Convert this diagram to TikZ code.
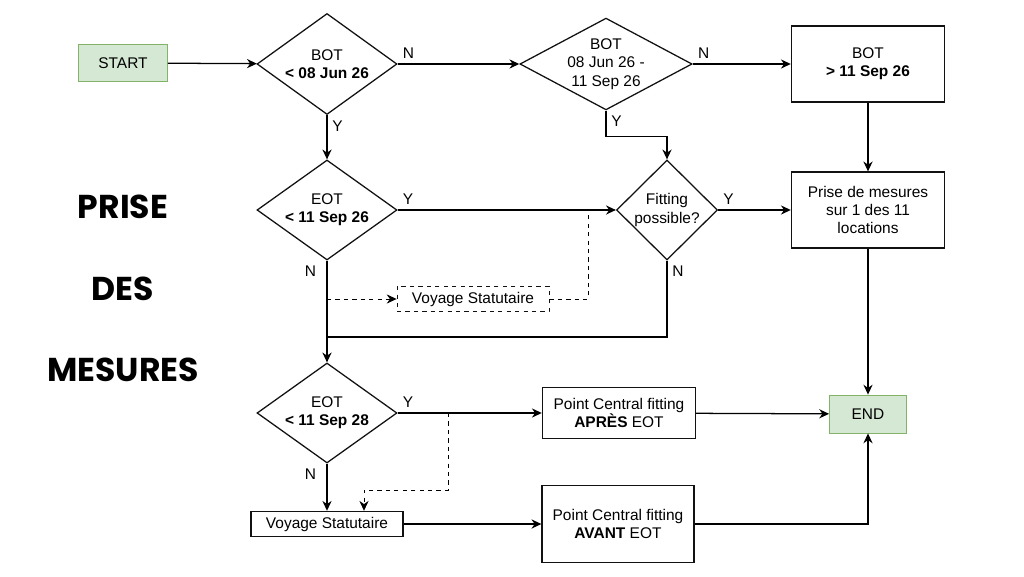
\documentclass[tikz,border=0pt]{standalone}
\usepackage{fontspec}
\setmainfont{Liberation Sans}
\newfontfamily\titlefont{Poppins}
\usepackage{tikz}
\usetikzlibrary{positioning,arrows.meta,shapes.geometric}
\definecolor{flowgreen}{HTML}{D5E8D4}
\definecolor{flowgreenln}{HTML}{82B366}
\definecolor{flowink}{HTML}{111111}

\begin{document}
\begin{tikzpicture}[font=\fontsize{11}{13}\selectfont,>={Stealth[length=7pt,width=6.5pt]},line width=0.9pt,
  termn/.style={draw=flowgreenln,fill=flowgreen,line width=0.6pt,minimum width=2.225cm,minimum height=0.93cm},
  proc/.style={draw=flowink,fill=white,align=center,minimum width=3.83cm,minimum height=1.9cm},
  dec/.style={diamond,draw=flowink,align=center,inner sep=0pt,minimum width=3.5cm,minimum height=2.5cm,shape aspect=1.39},
  vbox/.style={draw=flowink,align=center,minimum width=3.8cm,minimum height=0.63cm},
  bigtxt/.style={font=\titlefont\bfseries\fontsize{23.5}{28}\selectfont}]
\useasboundingbox[fill=white] (0,0) rectangle (25.6,-14.4);
% title
\node[bigtxt] (t1) at (3.075,-5.175) {PRISE};
\node[bigtxt] (t2) at (3.075,-7.225) {DES};
\node[bigtxt] (t3) at (3.075,-9.25) {MESURES};
% top row
\node[termn] (start) at (3.075,-1.575) {START};
\node[dec,minimum height=2.525cm] (bot1) at (8.175,-1.6) {BOT\\\textbf{< 08 Jun 26}};
\node[dec,minimum width=4.125cm,minimum height=2.2cm,shape aspect=1.875] (bot2) at (15.15,-1.6) {BOT\\08 Jun 26 -\\11 Sep 26};
\node[proc] (bot3) at (21.7,-1.6) {BOT\\\textbf{> 11 Sep 26}};
% middle row
\node[dec] (eot1) at (8.175,-5.25) {EOT\\\textbf{< 11 Sep 26}};
\node[dec,minimum width=2.525cm,shape aspect=1] (fit) at (16.675,-5.25) {Fitting\\possible?};
\node[proc] (mes) at (21.7,-5.25) {Prise de mesures\\sur 1 des 11\\locations};
\node[vbox,dashed,line width=0.6pt] (voy1) at (11.825,-7.475) {Voyage Statutaire};
% bottom rows
\node[dec] (eot2) at (8.175,-10.325) {EOT\\\textbf{< 11 Sep 28}};
\node[proc,minimum height=1.275cm] (apres) at (15.475,-10.325) {Point Central fitting\\\textbf{APRÈS} EOT};
\node[termn,minimum width=1.925cm,minimum height=0.95cm] (end) at (21.7,-10.35) {END};
\node[vbox] (voy2) at (8.175,-13.1) {Voyage Statutaire};
\node[proc,minimum width=3.8cm,minimum height=1.925cm] (avant) at (15.45,-13.1) {Point Central fitting\\\textbf{AVANT} EOT};
\coordinate (merge) at (8.175,-8.425);
\coordinate (fitjoin) at (14.7,-5.25);
\coordinate (dropjoin) at (11.2,-10.325);
% connectors
\draw[->] (start) -- (bot1);
\draw[->] (bot1.east) node[above right]{N} -- (bot2.west);
\draw[->] (bot2.east) node[above right]{N} -- (bot3.west);
\draw[->] (bot1.south) node[below right]{Y} -- (eot1.north);
\draw[->] (bot2.south) node[below right]{Y} -- ++(0,-0.65) -| (fit.north);
\draw[->] (eot1.east) node[above right]{Y} -- (fit.west);
\draw[->] (fit.east) node[above right]{Y} -- (mes.west);
\draw[->] (bot3) -- (mes);
\draw[->] (eot1.south) node[below left,xshift=-4pt]{N} -- (eot2.north);
\draw (fit.south) node[below right]{N} |- (merge);
\draw[->,dashed,line width=0.6pt] (eot1.south |- voy1.west) -- (voy1.west);
\draw[dashed,line width=0.6pt] (voy1.east) -| (fitjoin);
\draw[->] (eot2.east) node[above right]{Y} -- (apres.west);
\draw[->] (eot2.south) node[below left,xshift=-4pt]{N} -- (voy2.north);
\draw[->,dashed,line width=0.6pt] (dropjoin) -- ++(0,-1.925) -| ([xshift=0.925cm]voy2.north);
\draw[->] (apres) -- (end);
\draw[->] (mes) -- (end);
\draw[->] (voy2) -- (avant);
\draw[->] (avant.east) -| (end.south);
\end{tikzpicture}
\end{document}
